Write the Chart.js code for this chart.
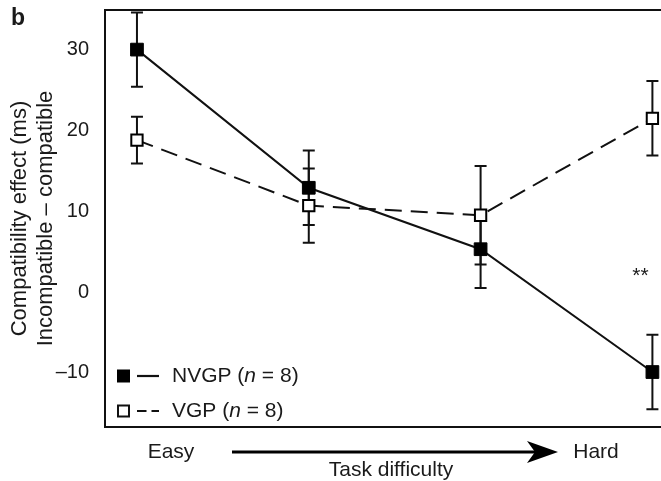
<!DOCTYPE html>
<html><head><meta charset="utf-8">
<script src="https://cdn.jsdelivr.net/npm/chart.js@4.4.0/dist/chart.umd.min.js"></script>
<style>html,body{margin:0;padding:0;background:#fff;} canvas{display:block;}</style>
</head><body>
<canvas id="c" width="661" height="481"></canvas>
<script>
// ---- data ----
const levels = [0, 1, 2, 3];
const nvgpMean = [30.0, 12.9, 5.3, -9.9];
const nvgpErr  = [4.6, 4.6, 4.8, 4.6];
const vgpMean  = [18.8, 10.7, 9.5, 21.5];
const vgpErr   = [2.9, 4.6, 6.1, 4.6];
const yTicks = [-10, 0, 10, 20, 30];
const seriesNames = ['NVGP', 'VGP'];
const groupSizes = [8, 8];
const yTitle = ['Compatibility effect (ms)', 'Incompatible \u2013 compatible'];
const xEndLabels = ['Easy', 'Hard'];
const xTitle = 'Task difficulty';
const panelLabel = 'b';
const sigMark = '**';
const sigPos = {x: 2.93, y: 1.2};

const FONT = "'Liberation Sans', Arial, Helvetica, sans-serif";
const INK = '#1a1a1a';
Chart.defaults.font.family = FONT;
Chart.defaults.color = INK;

const errorBars = {
  id: 'errorBars',
  beforeDatasetsDraw(chart) {
    const {ctx, scales: {x, y}} = chart;
    ctx.save();
    ctx.strokeStyle = '#111';
    ctx.lineWidth = 2;
    chart.data.datasets.forEach(ds => {
      ds.data.forEach((p, i) => {
        const e = ds.err[i];
        const px = x.getPixelForValue(p.x);
        const y1 = y.getPixelForValue(p.y + e), y2 = y.getPixelForValue(p.y - e);
        ctx.beginPath();
        ctx.moveTo(px, y1); ctx.lineTo(px, y2);
        ctx.moveTo(px - 6, y1); ctx.lineTo(px + 6, y1);
        ctx.moveTo(px - 6, y2); ctx.lineTo(px + 6, y2);
        ctx.stroke();
      });
    });
    ctx.restore();
  }
};

const decor = {
  id: 'decor',
  afterDraw(chart) {
    const {ctx, chartArea: a, scales: {x, y}} = chart;
    ctx.save();
    // top frame line
    ctx.strokeStyle = '#111'; ctx.lineWidth = 2;
    ctx.beginPath(); ctx.moveTo(a.left - 1, a.top); ctx.lineTo(a.right, a.top); ctx.stroke();
    ctx.fillStyle = INK;
    // panel label
    ctx.font = `bold 23px ${FONT}`;
    ctx.textAlign = 'left'; ctx.textBaseline = 'alphabetic';
    ctx.fillText(panelLabel, 11, 25);
    // significance
    ctx.font = `21px ${FONT}`;
    ctx.textAlign = 'center';
    ctx.fillText(sigMark, x.getPixelForValue(sigPos.x), y.getPixelForValue(sigPos.y));
    // legend
    const lx = a.left + 18.5;
    const rows = [a.bottom - 51, a.bottom - 16];
    chart.data.datasets.forEach((ds, i) => {
      const cy = rows[i];
      ctx.strokeStyle = '#111';
      if (i === 0) {
        ctx.fillStyle = '#000';
        ctx.fillRect(lx - 6.5, cy - 6.5, 13, 13);
      } else {
        ctx.fillStyle = '#fff';
        ctx.lineWidth = 2;
        ctx.fillRect(lx - 5.5, cy - 5.5, 11, 11);
        ctx.strokeRect(lx - 5.5, cy - 5.5, 11, 11);
      }
      ctx.lineWidth = 2.2;
      ctx.beginPath();
      if (i === 0) { ctx.moveTo(lx + 13.5, cy); ctx.lineTo(lx + 35.5, cy); }
      else { ctx.moveTo(lx + 13.5, cy); ctx.lineTo(lx + 23, cy); ctx.moveTo(lx + 28, cy); ctx.lineTo(lx + 35.5, cy); }
      ctx.stroke();
      ctx.fillStyle = INK;
      ctx.textAlign = 'left'; ctx.textBaseline = 'middle';
      let tx = lx + 48.5;
      const parts = [[`21px ${FONT}`, ds.label + ' ('], [`italic 21px ${FONT}`, 'n'], [`21px ${FONT}`, ' = ' + groupSizes[i] + ')']];
      parts.forEach(([f, t]) => { ctx.font = f; ctx.fillText(t, tx, cy); tx += ctx.measureText(t).width; });
    });
    // bottom labels & arrow
    ctx.font = `21px ${FONT}`;
    ctx.textAlign = 'center'; ctx.textBaseline = 'middle';
    ctx.fillText(xEndLabels[0], 171, 452);
    ctx.fillText(xEndLabels[1], 596, 452);
    ctx.fillText(xTitle, 391, 470);
    ctx.strokeStyle = '#000'; ctx.lineWidth = 3;
    ctx.beginPath(); ctx.moveTo(232, 452); ctx.lineTo(535, 452); ctx.stroke();
    ctx.fillStyle = '#000';
    ctx.beginPath();
    ctx.moveTo(558, 452); ctx.lineTo(527, 441); ctx.lineTo(535, 452); ctx.lineTo(527, 463); ctx.closePath();
    ctx.fill();
    ctx.restore();
  }
};

const xRange = {min: -0.186, max: 3.05};

new Chart(document.getElementById('c'), {
  type: 'line',
  data: {
    datasets: [
      {
        label: seriesNames[0],
        data: levels.map((v, i) => ({x: v, y: nvgpMean[i]})),
        err: nvgpErr,
        borderColor: '#111', borderWidth: 2,
        pointStyle: 'rect', pointRadius: 9, pointHoverRadius: 9,
        pointBackgroundColor: '#000', pointBorderColor: '#000', pointBorderWidth: 1,
        tension: 0, fill: false
      },
      {
        label: seriesNames[1],
        data: levels.map((v, i) => ({x: v, y: vgpMean[i]})),
        err: vgpErr,
        borderColor: '#111', borderWidth: 2, borderDash: [17, 9],
        pointStyle: 'rect', pointRadius: 8, pointHoverRadius: 8,
        pointBackgroundColor: '#fff', pointBorderColor: '#000', pointBorderWidth: 2,
        tension: 0, fill: false
      }
    ]
  },
  options: {
    responsive: false,
    animation: false,
    events: [],
    layout: {padding: {left: 0, top: 10, right: 0, bottom: 54}, autoPadding: false},
    plugins: {legend: {display: false}, tooltip: {enabled: false}},
    scales: {
      x: {
        type: 'linear', position: 'bottom', ...xRange,
        grid: {display: false, drawTicks: false},
        ticks: {display: false},
        border: {display: true, color: '#111', width: 2},
        afterFit: s => { s.height = 0; s.paddingLeft = 0; s.paddingRight = 0; }
      },
      y: {
        type: 'linear', position: 'left', min: -16.7, max: 34.9,
        grid: {display: false, drawTicks: false},
        border: {display: true, color: '#111', width: 2},
        afterBuildTicks: s => { s.ticks = yTicks.map(v => ({value: v})); },
        ticks: {
          padding: 16, color: INK,
          font: {size: 20},
          callback: v => v < 0 ? '\u2013' + Math.abs(v) : String(v)
        },
        title: {
          display: true, text: yTitle, color: INK,
          font: {size: 22, lineHeight: 1.18},
          padding: {top: 7, bottom: 0}
        },
        afterFit: s => { s.width = 105; s.paddingTop = 0; s.paddingBottom = 0; }
      }
    }
  },
  plugins: [errorBars, decor]
});
</script>
</body></html>
